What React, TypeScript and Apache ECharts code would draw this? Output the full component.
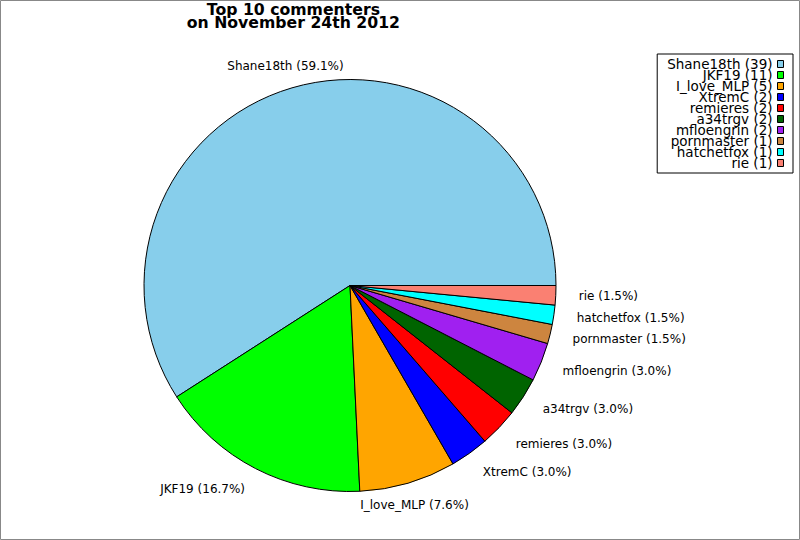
import React, { useEffect, useRef } from "react";
import * as echarts from "echarts";

const NAMES = [
  "Shane18th",
  "JKF19",
  "I_love_MLP",
  "XtremC",
  "remieres",
  "a34trgv",
  "mfloengrin",
  "pornmaster",
  "hatchetfox",
  "rie",
];
const VALUES = [39, 11, 5, 2, 2, 2, 2, 1, 1, 1];
const COLORS = [
  "#87CEEB",
  "#00FF00",
  "#FFA500",
  "#0000FF",
  "#FF0000",
  "#006400",
  "#A020F0",
  "#CD853F",
  "#00FFFF",
  "#FA8072",
];
const TITLE_LINES = ["Top 10 commenters", "on November 24th 2012"];

const FONT = "DejaVu Sans";
const CX = 350;
const CY = 285.5;
const R = 206;
const LABEL_R = 229;

export default function App() {
  const ref = useRef<HTMLDivElement>(null);

  useEffect(() => {
    if (!ref.current) return;
    const chart = echarts.init(ref.current, undefined, { renderer: "svg" });
    const total = VALUES.reduce((a, b) => a + b, 0);
    const mids: number[] = [];
    let cum = 0;
    VALUES.forEach((v) => {
      mids.push(((cum + v / 2) / total) * Math.PI * 2);
      cum += v;
    });

    const option = {
      animation: false,
      backgroundColor: "#ffffff",
      title: {
        text: TITLE_LINES.join("\n"),
        left: "center",
        top: 3,
        padding: 0,
        textStyle: {
          fontFamily: FONT,
          fontWeight: "bold",
          fontSize: 15.7,
          lineHeight: 13,
          color: "#000",
        },
        textAlign: "center",
      },
      legend: {
        orient: "vertical",
        right: 7,
        top: 54,
        align: "right",
        itemWidth: 6,
        itemHeight: 7,
        itemGap: -3,
        padding: [3, 9, 3, 10],
        borderColor: "#000",
        borderWidth: 1,
        borderRadius: 0,
        backgroundColor: "#fff",
        icon: "rect",
        itemStyle: { borderColor: "#000", borderWidth: 1 },
        textStyle: {
          fontFamily: FONT,
          fontSize: 13.5,
          lineHeight: 11,
          color: "#000",
        },
        formatter: (name: string) => {
          const i = NAMES.indexOf(name);
          return `${name} (${VALUES[i]})`;
        },
        data: NAMES,
      },
      graphic: [
        {
          type: "rect",
          shape: { x: 0.5, y: 0.5, width: 799, height: 539 },
          style: { fill: "none", stroke: "#888", lineWidth: 1 },
          silent: true,
          z: 100,
        },
      ],
      series: [
        {
          type: "pie",
          center: [CX, CY],
          radius: [0, R],
          startAngle: 0,
          clockwise: false,
          avoidLabelOverlap: false,
          minAngle: 0,
          itemStyle: { borderColor: "#000", borderWidth: 1 },
          label: {
            show: true,
            position: "outside",
            fontFamily: FONT,
            fontSize: 12,
            color: "#000",
            formatter: (p: any) =>
              `${p.name} (${((p.value / total) * 100).toFixed(1)}%)`,
          },
          labelLine: { show: false },
          labelLayout: (p: any) => {
            const a = mids[p.dataIndex];
            const c = Math.cos(a);
            const s = Math.sin(a);
            const align = Math.abs(c) < 0.35 ? "center" : c > 0 ? "left" : "right";
            return {
              x: CX + LABEL_R * c,
              y: CY - LABEL_R * s,
              align,
              verticalAlign: "middle",
            };
          },
          emphasis: { disabled: true },
          data: NAMES.map((n, i) => ({
            name: n,
            value: VALUES[i],
            itemStyle: { color: COLORS[i] },
          })),
        },
      ],
    };
    chart.setOption(option as any);
    return () => chart.dispose();
  }, []);

  return (
    <div
      ref={ref}
      style={{ position: "absolute", left: 0, top: 0, width: 800, height: 540 }}
    />
  );
}
